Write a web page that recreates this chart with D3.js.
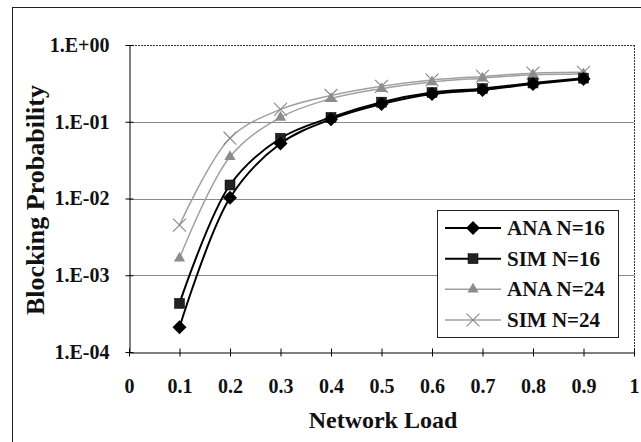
<!DOCTYPE html>
<html>
<head>
<meta charset="utf-8">
<script src="https://cdn.jsdelivr.net/npm/d3@7"></script>
<style>
  html, body { margin: 0; padding: 0; background: #fff; }
  svg { display: block; }
  text { font-family: "Liberation Serif", "Times New Roman", serif; font-weight: bold; fill: #111; }
</style>
</head>
<body>
<svg id="chart" width="641" height="442"></svg>
<script>
const loads = [0.1, 0.2, 0.3, 0.4, 0.5, 0.6, 0.7, 0.8, 0.9];
const ana16 = [2.1e-4, 1.02e-2, 0.052, 0.108, 0.17, 0.23, 0.26, 0.31, 0.36];
const sim16 = [4.3e-4, 1.5e-2, 0.061, 0.114, 0.18, 0.24, 0.27, 0.32, 0.37];
const ana24 = [1.66e-3, 3.5e-2, 0.114, 0.20, 0.27, 0.33, 0.37, 0.41, 0.42];
const sim24 = [4.5e-3, 6.1e-2, 0.145, 0.22, 0.29, 0.35, 0.39, 0.43, 0.44];
const seriesNames = ["ANA N=16", "SIM N=16", "ANA N=24", "SIM N=24"];
const xTicks = [0, 0.1, 0.2, 0.3, 0.4, 0.5, 0.6, 0.7, 0.8, 0.9, 1];
const xTickLabels = ["0", "0.1", "0.2", "0.3", "0.4", "0.5", "0.6", "0.7", "0.8", "0.9", "1"];
const yTicks = [1e-4, 1e-3, 1e-2, 1e-1, 1];
const yTickLabels = ["1.E-04", "1.E-03", "1.E-02", "1.E-01", "1.E+00"];
const xTitle = "Network Load";
const yTitle = "Blocking Probability";

const series = [
  { name: seriesNames[0], values: ana16, color: "#000", width: 2, marker: "diamond" },
  { name: seriesNames[1], values: sim16, color: "#000", width: 2, marker: "square" },
  { name: seriesNames[2], values: ana24, color: "#a0a0a0", width: 1.5, marker: "triangle" },
  { name: seriesNames[3], values: sim24, color: "#a0a0a0", width: 1.5, marker: "cross" }
];

const svg = d3.select("#chart");
const L = 129, R = 634, T = 45, B = 352;
const x = d3.scaleLinear().domain([0, 1]).range([L, R]);
const y = d3.scaleLog().domain([1e-4, 1]).range([B, T]);

// outer border (right/bottom edges fall outside the picture)
svg.append("rect").attr("x", 12.5).attr("y", 7.5).attr("width", 660).attr("height", 460)
  .attr("fill", "none").attr("stroke", "#222").attr("stroke-width", 1);

// plot area border (top/right dotted)
svg.append("line").attr("x1", L).attr("x2", R).attr("y1", T + 0.5).attr("y2", T + 0.5)
  .attr("stroke", "#333").attr("stroke-dasharray", "2,1");
svg.append("line").attr("x1", R + 0.5).attr("x2", R + 0.5).attr("y1", T).attr("y2", B)
  .attr("stroke", "#333").attr("stroke-dasharray", "2,1");

// gridlines
svg.append("g").selectAll("line").data(yTicks.filter(v => v > 1e-4 && v < 1)).join("line")
  .attr("x1", L).attr("x2", R)
  .attr("y1", d => Math.round(y(d)) + 0.5).attr("y2", d => Math.round(y(d)) + 0.5)
  .attr("stroke", "#8a8a8a").attr("stroke-width", 1);

// axes
const xAxis = d3.axisBottom(x).tickValues(xTicks).tickFormat((d, i) => xTickLabels[i])
  .tickSizeInner(4).tickSizeOuter(0).tickPadding(22);
const gx = svg.append("g").attr("transform", `translate(0,${B + 0.5})`).call(xAxis);
gx.select(".domain").attr("stroke", "#000");
gx.selectAll(".tick line").attr("y1", -4).attr("y2", 4).attr("stroke", "#000");
gx.selectAll("text").attr("font-size", 20).attr("fill", "#111")
  .attr("font-family", "Liberation Serif").attr("font-weight", "bold");

const yAxis = d3.axisLeft(y).tickValues(yTicks).tickFormat((d, i) => yTickLabels[i])
  .tickSizeInner(4).tickSizeOuter(0).tickPadding(16);
const gy = svg.append("g").attr("transform", `translate(${L + 0.5},0)`).call(yAxis);
gy.select(".domain").attr("stroke", "#000");
gy.selectAll(".tick line").attr("x1", -4).attr("x2", 4).attr("stroke", "#000");
gy.selectAll("text").attr("font-size", 20).attr("fill", "#111")
  .attr("font-family", "Liberation Serif").attr("font-weight", "bold");

// titles
svg.append("text").attr("x", 383).attr("y", 428).attr("text-anchor", "middle")
  .attr("font-size", 24).text(xTitle);
svg.append("text").attr("transform", "translate(44,200) rotate(-90)").attr("text-anchor", "middle")
  .attr("font-size", 26).text(yTitle);

// markers
function drawMarker(g, type, color, cx, cy) {
  if (type === "diamond") {
    g.append("path").attr("d", "M0,-7L7,0L0,7L-7,0Z")
      .attr("transform", `translate(${cx},${cy})`)
      .attr("fill", "#000");
  } else if (type === "square") {
    g.append("rect").attr("x", cx - 5).attr("y", cy - 5).attr("width", 10).attr("height", 10)
      .attr("fill", "#222").attr("stroke", "#000").attr("stroke-width", 0.5);
  } else if (type === "triangle") {
    g.append("path").attr("d", d3.symbol(d3.symbolTriangle, 55)())
      .attr("transform", `translate(${cx},${cy})`)
      .attr("fill", "#8c8c8c");
  } else {
    g.append("path").attr("d", d3.symbol(d3.symbolX, 110)())
      .attr("transform", `translate(${cx},${cy})`)
      .attr("fill", "none").attr("stroke", "#8c8c8c").attr("stroke-width", 1.2);
  }
}

const line = d3.line().x(d => x(d[0])).y(d => y(d[1])).curve(d3.curveCatmullRom.alpha(0.5));
const plot = svg.append("g");
series.slice().reverse().forEach(s => {
  const pts = loads.map((l, i) => [l, s.values[i]]);
  plot.append("path").attr("d", line(pts)).attr("fill", "none")
    .attr("stroke", s.color).attr("stroke-width", s.width);
});
series.slice().reverse().forEach(s => {
  loads.forEach((l, i) => drawMarker(plot, s.marker, s.color, x(l), y(s.values[i])));
});

// legend
const lg = svg.append("g");
lg.append("rect").attr("x", 437.5).attr("y", 210.5).attr("width", 181).attr("height", 127)
  .attr("fill", "#fff").attr("stroke", "#222").attr("stroke-width", 1);
const legendY = d3.scalePoint().domain(seriesNames).range([228, 320]);
series.forEach(s => {
  const cy = legendY(s.name);
  lg.append("line").attr("x1", 445).attr("x2", 501).attr("y1", cy).attr("y2", cy)
    .attr("stroke", s.color).attr("stroke-width", s.width);
  drawMarker(lg, s.marker, s.color, 473, cy);
  lg.append("text").attr("x", 507).attr("y", cy + 7).attr("font-size", 21).text(s.name);
});
</script>
</body>
</html>
